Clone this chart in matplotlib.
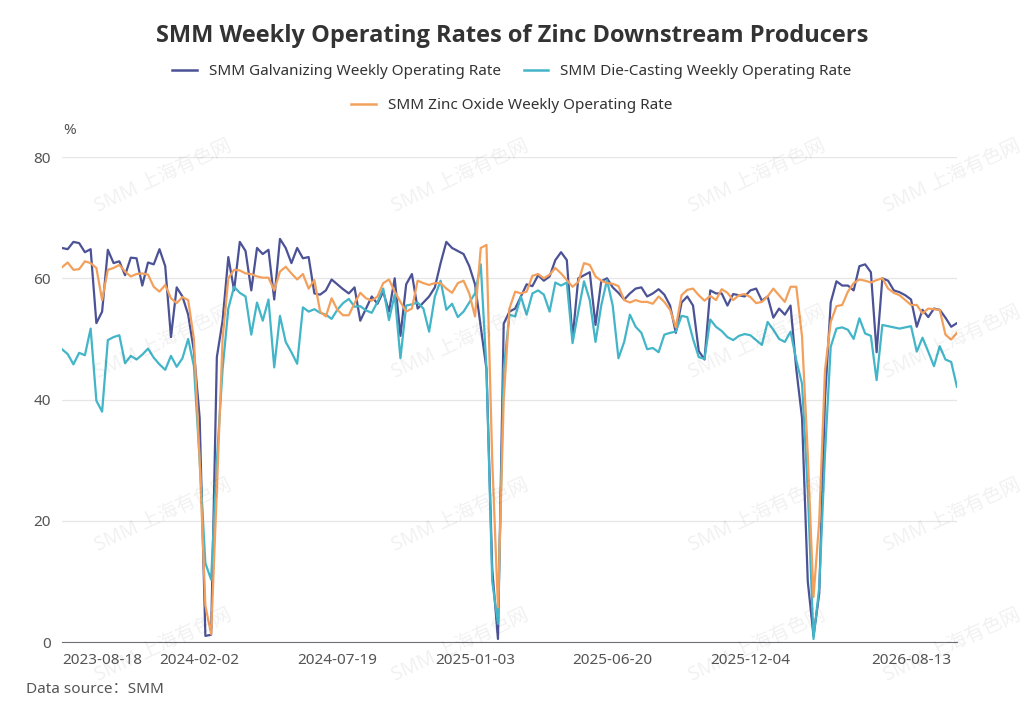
import numpy as np
import matplotlib.pyplot as plt
from matplotlib.lines import Line2D

# weekly operating rates (%)
galvanizing = [65, 64.8, 66, 65.8, 64.3, 64.8, 52.6, 54.5, 64.7, 62.5,
               62.8, 60.5, 63.4, 63.3, 58.8, 62.6, 62.3, 64.8, 62, 50.3,
               58.5, 57, 54, 48, 37, 1, 1.2, 47, 53, 63.5,
               58, 66, 64.5, 58, 65, 64, 64.7, 56.5, 66.5,
               65, 62.5, 65, 63.3, 63.5, 57.5, 57.3, 58, 59.8, 59,
               58.2, 57.5, 58.5, 53, 55, 57, 55.8, 57.8, 54.5, 60,
               50.5, 59, 60.7, 55, 56, 57, 58.5, 62.5, 66, 65,
               64.5, 64, 62, 59, 52, 45, 12, 0.5, 52.5, 54.5,
               55, 57, 59, 58.7, 60.5, 59.6, 60.3, 63, 64.3, 63,
               50, 60, 60.5, 61, 52.3, 59.5, 60, 58.5, 57.6, 56.5,
               57.5, 58.3, 58.5, 57, 57.5, 58.2, 57.3, 55.5, 51, 56,
               57, 55.5, 48, 46.6, 58, 57.5, 57.5, 55.5, 57.4, 57.2,
               57, 58, 58.3, 56.3, 57, 53.5, 55, 54, 55.5, 45,
               37, 10, 1, 8, 40, 56, 59.5, 58.8, 58.8, 58,
               62, 62.3, 61, 47.8, 60, 59.6, 58, 57.7, 57.2, 56.5,
               52, 54.8, 53.6, 55, 54.8, 53.5, 52, 52.6]
die_casting = [48.3, 47.5, 45.8, 47.7, 47.3, 51.7, 39.8, 38, 49.8, 50.3,
               50.6, 46, 47.2, 46.6, 47.4, 48.4, 46.9, 45.8, 44.9, 47.2,
               45.4, 46.8, 50, 45.5, 30, 13, 10.3, 30, 45, 55,
               58.6, 57.6, 57, 50.7, 56, 53, 56.5, 45.3, 53.8,
               49.5, 47.8, 45.9, 55.2, 54.5, 54.9, 54.3, 54, 53.3, 54.8,
               55.9, 56.6, 55.3, 55.4, 54.7, 54.3, 56.1, 58.3, 53.1, 57.3,
               46.8, 55.5, 55.7, 56, 55, 51.2, 57, 59.6, 54.8, 55.8,
               53.6, 54.5, 56, 57.5, 62.3, 45, 10, 3, 45, 54,
               53.7, 57, 54, 57.5, 58, 57.3, 54.5, 59.3, 58.8, 59.3,
               49.3, 54.5, 59.5, 56.4, 49.5, 55.5, 59.7, 55.5, 46.8, 49.5,
               54, 52, 51, 48.3, 48.5, 47.8, 50.7, 51, 51.2, 53.8,
               53.6, 50, 47, 46.7, 53.2, 52, 51.3, 50.3, 49.8, 50.5,
               50.8, 50.6, 49.8, 49, 52.8, 51.5, 50, 49.5, 51.2, 46.5,
               42.6, 25, 0.5, 9, 31, 48.7, 51.7, 51.9, 51.5, 50,
               53.4, 50.9, 50.5, 43.2, 52.3, 52.1, 51.9, 51.7, 51.9, 52.1,
               47.9, 50.2, 47.9, 45.5, 48.8, 46.6, 46.2, 42.1]
zinc_oxide = [61.8, 62.6, 61.4, 61.5, 62.8, 62.5, 61.7, 56.4, 61.4, 61.7,
              62.2, 61.1, 60.3, 60.7, 60.8, 60.6, 58.6, 57.8, 58.9, 56.7,
              55.9, 56.9, 56.4, 50, 30, 6, 1.3, 25, 50, 60,
              61.4, 61.3, 60.8, 60.7, 60.3, 60.1, 60.1, 58, 61.1,
              61.9, 60.8, 59.8, 60.7, 58.3, 59.7, 54.5, 53.7, 56.7, 54.8,
              53.9, 53.9, 55.9, 57.6, 56.7, 56.3, 57, 59.2, 59.8, 57.8,
              56.1, 54.5, 55, 59.6, 59.2, 58.9, 59.2, 59.2, 58.3, 57.6,
              59.2, 59.6, 57.5, 53.7, 65, 65.5, 30, 5.7, 40, 55,
              57.8, 57.5, 57.8, 60.4, 60.7, 60, 60.6, 61.7, 60.8, 59.7,
              58.6, 59.4, 62.5, 62.2, 60.3, 59.6, 59.2, 59.1, 58.7, 56.4,
              56, 56.4, 56.1, 56.1, 55.8, 57, 56.1, 54.8, 51.9, 57.2,
              58.1, 58.3, 57.2, 56.3, 57.1, 56.4, 58.2, 57.6, 56.4, 57.2,
              57.4, 56.9, 55.9, 56.1, 57, 58.3, 57.2, 56.1, 58.6, 58.6,
              50.4, 31, 7.4, 20, 44.8, 52.8, 55.4, 55.6, 57.8, 59.2,
              59.8, 59.6, 59.3, 59.7, 60, 58.3, 57.6, 57.2, 56.4, 55.6,
              55.6, 54.2, 55, 54.9, 54.8, 50.7, 49.9, 51]

tick_pos = [0, 24, 48, 72, 96, 120, 148]
tick_labels = ['2023-08-18', '2024-02-02', '2024-07-19', '2025-01-03',
               '2025-06-20', '2025-12-04', '2026-08-13']
names = ['SMM Galvanizing Weekly Operating Rate',
         'SMM Die-Casting Weekly Operating Rate',
         'SMM Zinc Oxide Weekly Operating Rate']
colors = ['#4b5295', '#42b5c8', '#f2a05c']

plt.rcParams['font.family'] = ['Noto Sans', 'Noto Sans CJK SC', 'DejaVu Sans']

fig = plt.figure(figsize=(10.24, 7.22), dpi=100)
ax = fig.add_axes([0.0605, 0.1108, 0.874, 0.6717])

x = np.arange(len(galvanizing))
for ys, c, n in zip([galvanizing, die_casting, zinc_oxide], colors, names):
    ax.plot(x, ys, color=c, lw=1.6, label=n)

ax.set_xlim(0, len(galvanizing) - 1)
ax.set_ylim(0, 80)
ax.set_yticks([0, 20, 40, 60, 80])
ax.set_xticks(tick_pos)
ax.set_xticklabels(tick_labels)
ax.get_xticklabels()[0].set_horizontalalignment('left')
ax.grid(axis='y', color='#e6e6e6', lw=0.9)
ax.set_axisbelow(True)
for s in ['top', 'right', 'left']:
    ax.spines[s].set_visible(False)
ax.spines['bottom'].set_color('#6e7079')
ax.tick_params(axis='both', length=0, labelsize=11, colors='#555555', pad=8)

# watermarks
for wx in [0.09, 0.38, 0.67, 0.86]:
    for wy in [0.70, 0.47, 0.23, 0.05]:
        fig.text(wx, wy, 'SMM 上海有色网', rotation=25, fontsize=14,
                 color='#000000', alpha=0.06, ha='left', va='bottom')

fig.text(0.5, 0.95, 'SMM Weekly Operating Rates of Zinc Downstream Producers',
         ha='center', va='center', fontsize=17, fontweight='bold', color='#333333',
         family=['Open Sans', 'DejaVu Sans'])
h = [Line2D([], [], color=c, lw=1.8) for c in colors]
fig.legend(h[:2], names[:2], loc='center', bbox_to_anchor=(0.5, 0.901), ncol=2,
           frameon=False, fontsize=11, handlelength=1.6, columnspacing=1.5,
           labelcolor='#333333')
fig.legend(h[2:], names[2:], loc='center', bbox_to_anchor=(0.5, 0.854),
           frameon=False, fontsize=11, handlelength=1.6, labelcolor='#333333')
fig.text(0.062, 0.815, '%', fontsize=11, color='#555555')
fig.text(0.025, 0.04, 'Data source：SMM', fontsize=11, color='#555555')

fig.savefig('out.png', dpi=100)
